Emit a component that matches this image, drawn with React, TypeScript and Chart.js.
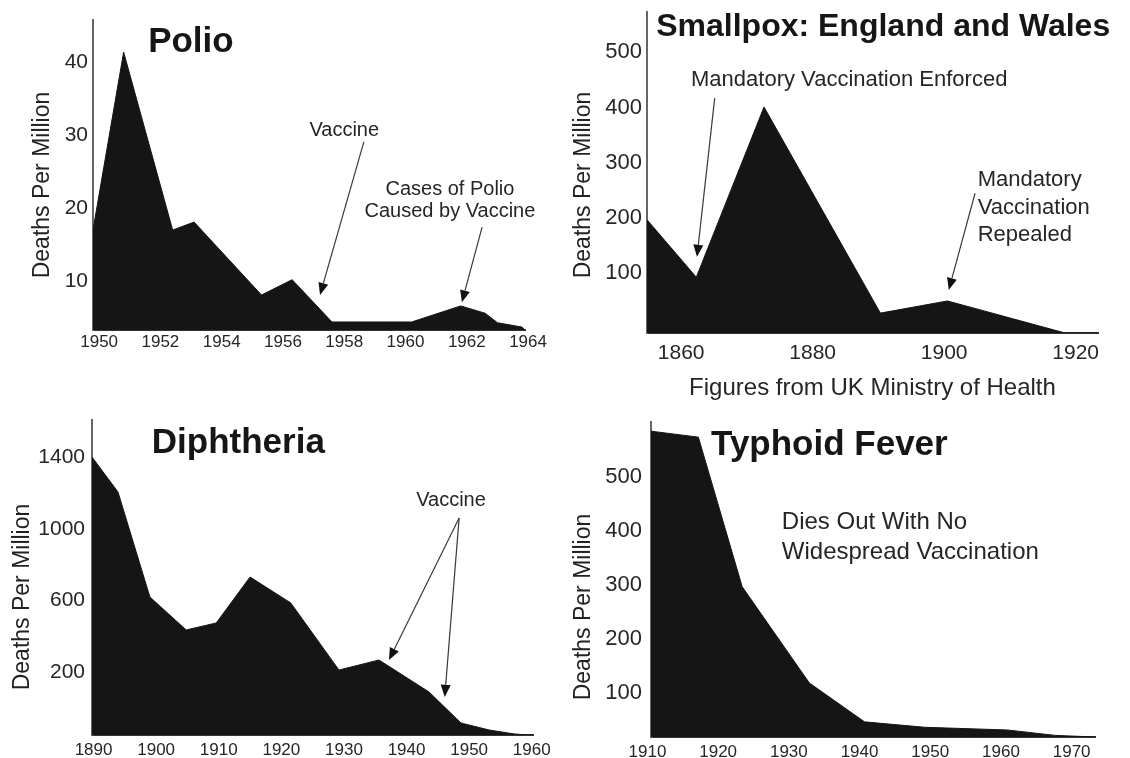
import React, { useEffect, useRef } from "react";
import { Chart, registerables } from "chart.js";

Chart.register(...registerables);

const FONT = '"Liberation Sans", Arial, Helvetica, sans-serif';
const Y_TITLE = "Deaths Per Million";

// ---------- Polio ----------
const polioYears = [1949.8, 1950.8, 1952.4, 1953.1, 1955.3, 1956.3, 1957.6, 1960.2, 1961.8, 1962.6, 1963.0, 1963.8, 1963.9];
const polioDeaths = [17.0, 41.4, 17.0, 18.1, 8.1, 10.2, 4.4, 4.4, 6.6, 5.6, 4.3, 3.7, 3.3];
const polioXTicks = [1950, 1952, 1954, 1956, 1958, 1960, 1962, 1964];
const polioXLabels = ["1950", "1952", "1954", "1956", "1958", "1960", "1962", "1964"];
const polioYTicks = [10, 20, 30, 40];
const polioYLabels = ["10", "20", "30", "40"];

// ---------- Smallpox ----------
const smallpoxYears = [1854.8, 1862.3, 1872.6, 1890.3, 1900.5, 1918.4, 1923.4];
const smallpoxDeaths = [197, 93, 401, 28, 50, -8, -8];
const smallpoxXTicks = [1860, 1880, 1900, 1920];
const smallpoxXLabels = ["1860", "1880", "1900", "1920"];
const smallpoxYTicks = [100, 200, 300, 400, 500];
const smallpoxYLabels = ["100", "200", "300", "400", "500"];

// ---------- Diphtheria ----------
const diphtheriaYears = [1889.75, 1893.9, 1899.0, 1904.8, 1909.6, 1915.0, 1921.5, 1929.2, 1935.6, 1943.6, 1948.7, 1953.2, 1957.2, 1959.3, 1960.2];
const diphtheriaDeaths = [1402, 1207, 620, 436, 475, 732, 587, 212, 268, 89, -84, -123, -145, -151, -151];
const diphtheriaXTicks = [1890, 1900, 1910, 1920, 1930, 1940, 1950, 1960];
const diphtheriaXLabels = ["1890", "1900", "1910", "1920", "1930", "1940", "1950", "1960"];
const diphtheriaYTicks = [200, 600, 1000, 1400];
const diphtheriaYLabels = ["200", "600", "1000", "1400"];

// ---------- Typhoid ----------
const typhoidYears = [1910.5, 1917.2, 1923.4, 1932.9, 1940.7, 1949.2, 1960.9, 1967.7, 1973.3];
const typhoidDeaths = [584, 573, 296, 118, 46, 36, 31, 21, 18];
const typhoidXTicks = [1910, 1920, 1930, 1940, 1950, 1960, 1970];
const typhoidXLabels = ["1910", "1920", "1930", "1940", "1950", "1960", "1970"];
const typhoidYTicks = [100, 200, 300, 400, 500];
const typhoidYLabels = ["100", "200", "300", "400", "500"];

type Note = { lines: string[]; x: number; y: number; align: "left" | "center"; size: number; gap: number };
type Arrow = [number, number, number, number];

type PanelCfg = {
  key: string;
  left: number; top: number; w: number; h: number;
  area: { l: number; t: number; r: number; b: number };
  xs: number[]; ys: number[];
  xMin: number; xMax: number; yMin: number; yMax: number;
  xTicks: number[]; xLabels: string[]; yTicks: number[]; yLabels: string[];
  xTickSize: number; xPad: number; yTickSize: number; yPad: number;
  yTitleDx: number; yTitleCy: number; yTitleSize: number;
  xTitle?: string; xTitleSize?: number;
  title: string; titleAt: [number, number]; titleSize: number;
  notes: Note[]; arrows: Arrow[];
};

const panels: PanelCfg[] = [
  {
    key: "polio", left: 0, top: 0, w: 565, h: 379,
    area: { l: 93, t: 20, r: 525, b: 330 },
    xs: polioYears, ys: polioDeaths,
    xMin: 1949.8, xMax: 1963.9, yMin: 3.3, yMax: 45.8,
    xTicks: polioXTicks, xLabels: polioXLabels, yTicks: polioYTicks, yLabels: polioYLabels,
    xTickSize: 17, xPad: 2, yTickSize: 21, yPad: 5,
    yTitleDx: -50, yTitleCy: 185, yTitleSize: 23,
    title: "Polio", titleAt: [1951.6, 41.4], titleSize: 35,
    notes: [
      { lines: ["Vaccine"], x: 1958.0, y: 30.7, align: "center", size: 20, gap: 22 },
      { lines: ["Cases of Polio", "Caused by Vaccine"], x: 1961.45, y: 22.6, align: "center", size: 20, gap: 22 },
    ],
    arrows: [
      [1958.64, 29.1, 1957.21, 8.1],
      [1962.5, 17.4, 1961.84, 7.1],
    ],
  },
  {
    key: "smallpox", left: 565, top: 0, w: 565, h: 400,
    area: { l: 82, t: 12, r: 533, b: 333 },
    xs: smallpoxYears, ys: smallpoxDeaths,
    xMin: 1854.8, xMax: 1923.4, yMin: -8, yMax: 573,
    xTicks: smallpoxXTicks, xLabels: smallpoxXLabels, yTicks: smallpoxYTicks, yLabels: smallpoxYLabels,
    xTickSize: 21, xPad: 8, yTickSize: 22, yPad: 5,
    yTitleDx: -63, yTitleCy: 185, yTitleSize: 23,
    xTitle: "Figures from UK Ministry of Health", xTitleSize: 24,
    title: "Smallpox: England and Wales", titleAt: [1856.2, 530], titleSize: 32,
    notes: [
      { lines: ["Mandatory Vaccination Enforced"], x: 1861.5, y: 450, align: "left", size: 22, gap: 27.5 },
      { lines: ["Mandatory", "Vaccination", "Repealed"], x: 1905.1, y: 269, align: "left", size: 22, gap: 27.5 },
    ],
    arrows: [
      [1865.1, 417, 1862.4, 130],
      [1904.7, 245, 1900.7, 70],
    ],
  },
  {
    key: "diphtheria", left: 0, top: 400, w: 565, h: 358,
    area: { l: 92, t: 20, r: 533, b: 335 },
    xs: diphtheriaYears, ys: diphtheriaDeaths,
    xMin: 1889.75, xMax: 1960.2, yMin: -151, yMax: 1609,
    xTicks: diphtheriaXTicks, xLabels: diphtheriaXLabels, yTicks: diphtheriaYTicks, yLabels: diphtheriaYLabels,
    xTickSize: 17, xPad: 5, yTickSize: 21, yPad: 7,
    yTitleDx: -69, yTitleCy: 197, yTitleSize: 23,
    title: "Diphtheria", titleAt: [1899.3, 1425], titleSize: 35,
    notes: [
      { lines: ["Vaccine"], x: 1947.1, y: 1162, align: "center", size: 20, gap: 22 },
    ],
    arrows: [
      [1948.4, 1062, 1937.2, 268],
      [1948.4, 1062, 1946.1, 62],
    ],
  },
  {
    key: "typhoid", left: 565, top: 400, w: 565, h: 358,
    area: { l: 86, t: 22, r: 530, b: 337 },
    xs: typhoidYears, ys: typhoidDeaths,
    xMin: 1910.5, xMax: 1973.3, yMin: 18, yMax: 601,
    xTicks: typhoidXTicks, xLabels: typhoidXLabels, yTicks: typhoidYTicks, yLabels: typhoidYLabels,
    xTickSize: 17, xPad: 5, yTickSize: 22, yPad: 9,
    yTitleDx: -67, yTitleCy: 207, yTitleSize: 23,
    title: "Typhoid Fever", titleAt: [1919.0, 540], titleSize: 35,
    notes: [
      { lines: ["Dies Out With No", "Widespread Vaccination"], x: 1929.0, y: 416, align: "left", size: 24, gap: 30 },
    ],
    arrows: [],
  },
];

function drawArrow(ctx: CanvasRenderingContext2D, x1: number, y1: number, x2: number, y2: number) {
  const ang = Math.atan2(y2 - y1, x2 - x1);
  const head = 12;
  const half = 5;
  const bx = x2 - head * Math.cos(ang);
  const by = y2 - head * Math.sin(ang);
  ctx.strokeStyle = "#3a3a3a";
  ctx.lineWidth = 1.2;
  ctx.beginPath();
  ctx.moveTo(x1, y1);
  ctx.lineTo(bx, by);
  ctx.stroke();
  ctx.fillStyle = "#111";
  ctx.beginPath();
  ctx.moveTo(x2, y2);
  ctx.lineTo(bx + half * Math.sin(ang), by - half * Math.cos(ang));
  ctx.lineTo(bx - half * Math.sin(ang), by + half * Math.cos(ang));
  ctx.closePath();
  ctx.fill();
}

function notesPlugin(p: PanelCfg) {
  return {
    id: "notes_" + p.key,
    afterDraw(chart: any) {
      const ctx: CanvasRenderingContext2D = chart.ctx;
      const xs = chart.scales.x;
      const ys = chart.scales.y;
      const px = (v: number) => xs.getPixelForValue(v);
      const py = (v: number) => ys.getPixelForValue(v);
      ctx.save();
      // panel title
      ctx.fillStyle = "#161616";
      ctx.font = `bold ${p.titleSize}px ${FONT}`;
      ctx.textAlign = "left";
      ctx.textBaseline = "alphabetic";
      ctx.fillText(p.title, px(p.titleAt[0]), py(p.titleAt[1]));
      // y-axis title
      ctx.save();
      ctx.translate(chart.chartArea.left + p.yTitleDx, p.yTitleCy);
      ctx.rotate(-Math.PI / 2);
      ctx.font = `${p.yTitleSize}px ${FONT}`;
      ctx.fillStyle = "#222";
      ctx.textAlign = "center";
      ctx.textBaseline = "middle";
      ctx.fillText(Y_TITLE, 0, 0);
      ctx.restore();
      // text notes
      for (const n of p.notes) {
        ctx.font = `${n.size}px ${FONT}`;
        ctx.fillStyle = "#262626";
        ctx.textAlign = n.align;
        ctx.textBaseline = "middle";
        const x = px(n.x);
        const y0 = py(n.y);
        n.lines.forEach((line, i) => ctx.fillText(line, x, y0 + i * n.gap));
      }
      // arrows
      for (const a of p.arrows) drawArrow(ctx, px(a[0]), py(a[1]), px(a[2]), py(a[3]));
      ctx.restore();
    },
  };
}

function Panel({ p }: { p: PanelCfg }) {
  const ref = useRef<HTMLCanvasElement | null>(null);
  useEffect(() => {
    const canvas = ref.current;
    if (!canvas) return;
    const chart = new Chart(canvas, {
      type: "line",
      data: {
        datasets: [
          {
            data: p.xs.map((x, i) => ({ x, y: p.ys[i] })),
            fill: "start",
            backgroundColor: "#151515",
            borderColor: "#151515",
            borderWidth: 1,
            pointRadius: 0,
            tension: 0,
          },
        ],
      },
      options: {
        responsive: false,
        animation: false,
        events: [],
        layout: { padding: { left: 0, top: p.area.t, right: p.w - p.area.r, bottom: 0 } },
        plugins: { legend: { display: false }, tooltip: { enabled: false }, title: { display: false } },
        scales: {
          x: {
            type: "linear",
            min: p.xMin,
            max: p.xMax,
            grid: { display: false, drawTicks: false },
            border: { display: true, color: "#333", width: 2 },
            ticks: {
              autoSkip: false,
              maxRotation: 0,
              padding: p.xPad,
              color: "#262626",
              font: { family: FONT, size: p.xTickSize },
              callback: (_v: any, i: number) => p.xLabels[i],
            },
            title: p.xTitle
              ? {
                  display: true,
                  text: p.xTitle,
                  color: "#262626",
                  padding: 0,
                  font: { family: FONT, size: p.xTitleSize, lineHeight: 1 },
                }
              : { display: false },
            afterBuildTicks: (s: any) => {
              s.ticks = p.xTicks.map((v) => ({ value: v }));
            },
            afterFit: (s: any) => {
              s.height = p.h - p.area.b;
              s.paddingLeft = 0;
              s.paddingRight = 0;
              s.paddingTop = 0;
              s.paddingBottom = 0;
            },
          },
          y: {
            type: "linear",
            min: p.yMin,
            max: p.yMax,
            grid: { display: false, drawTicks: false },
            border: { display: true, color: "#666", width: 2 },
            ticks: {
              autoSkip: false,
              padding: p.yPad,
              color: "#262626",
              font: { family: FONT, size: p.yTickSize },
              callback: (_v: any, i: number) => p.yLabels[i],
            },
            afterBuildTicks: (s: any) => {
              s.ticks = p.yTicks.map((v) => ({ value: v }));
            },
            afterFit: (s: any) => {
              s.width = p.area.l;
              s.paddingLeft = 0;
              s.paddingRight = 0;
              s.paddingTop = 0;
              s.paddingBottom = 0;
            },
          },
        },
      } as any,
      plugins: [notesPlugin(p)],
    });
    return () => chart.destroy();
  }, [p]);
  return (
    <canvas
      ref={ref}
      width={p.w}
      height={p.h}
      style={{ position: "absolute", left: p.left, top: p.top, width: p.w, height: p.h }}
    />
  );
}

export default function App() {
  return (
    <div style={{ position: "fixed", left: 0, top: 0, width: 1130, height: 758, background: "#fff", overflow: "hidden" }}>
      {panels.map((p) => (
        <Panel key={p.key} p={p} />
      ))}
    </div>
  );
}
